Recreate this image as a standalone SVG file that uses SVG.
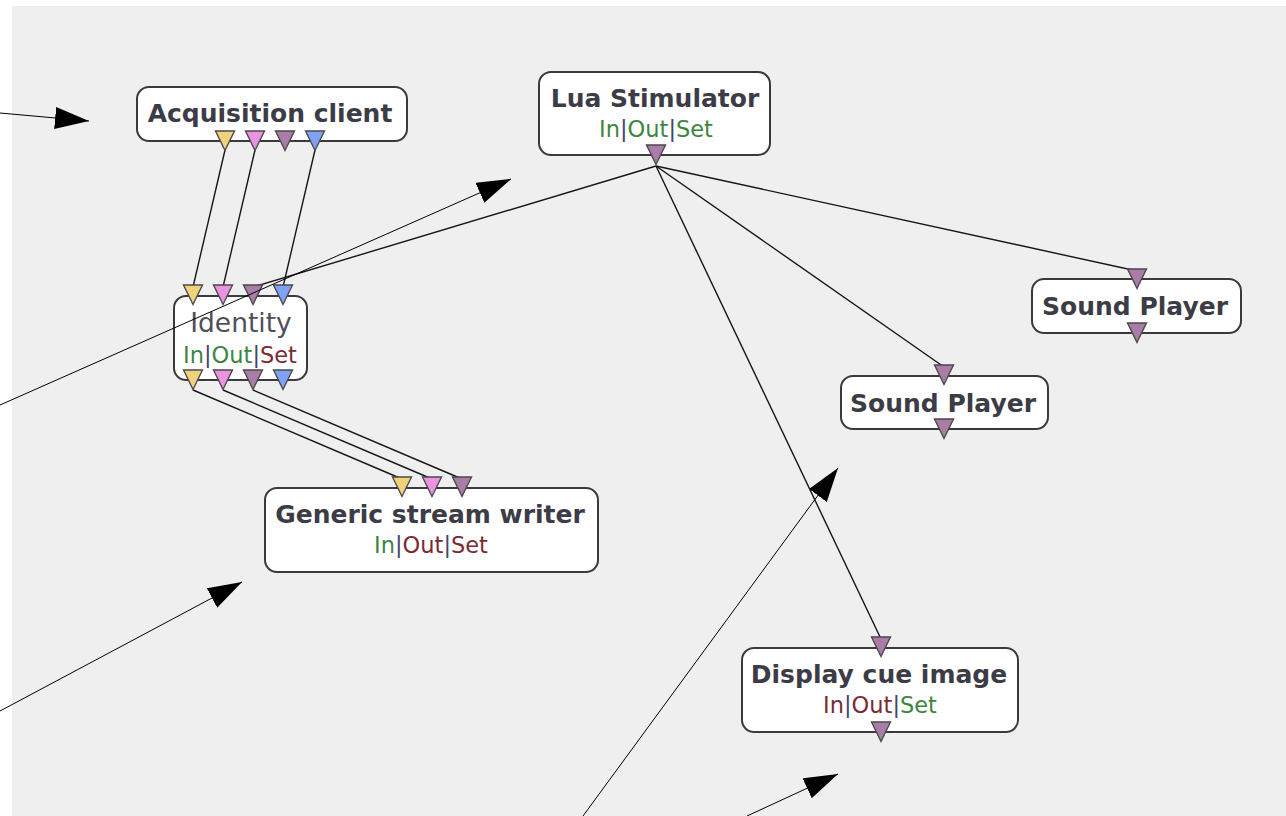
<svg xmlns="http://www.w3.org/2000/svg" width="1286" height="816" viewBox="0 0 1286 816">
  <style>
    .box { fill: #ffffff; stroke: #3a3a3a; stroke-width: 2; }
    .title { font-family: "DejaVu Sans", "Liberation Sans", sans-serif; font-size: 25px; font-weight: bold; fill: #3c3c46; text-anchor: middle; }
    .title.plain { font-weight: normal; font-size: 26.5px; fill: #50505c; }
    .sub { font-family: "DejaVu Sans", "Liberation Sans", sans-serif; font-size: 22.5px; text-anchor: middle; }
    .g { fill: #3d8542; }
    .r { fill: #7a2b33; }
    .p { fill: #3e4470; }
    .port { stroke: #4a4a4a; stroke-width: 1.4; stroke-linejoin: miter; }
    .yel { fill: #f0d27c; }
    .pnk { fill: #ec92e2; }
    .pur { fill: #a97da6; }
    .blu { fill: #7fa2f6; }
    .link { stroke: #161616; stroke-width: 1.4; fill: none; }
    .note { stroke: #000000; stroke-width: 1; fill: none; marker-end: url(#head); }
  </style>
  <defs>
    <path id="tri" d="M-9.5,0 L9.5,0 L0,19.5 Z"/>
    <marker id="head" markerUnits="userSpaceOnUse" markerWidth="36" markerHeight="24" refX="34" refY="11" orient="auto">
      <path d="M0,0 L34,11 L0,22 Z" fill="#000"/>
    </marker>
  </defs>

  <!-- canvas -->
  <rect x="12" y="6" width="1274" height="810" fill="#efefef"/>

  <!-- links between box ports -->
  <g id="connectors">
    <line class="link" x1="225" y1="150" x2="193" y2="287"/>
    <line class="link" x1="255" y1="150" x2="223" y2="287"/>
    <line class="link" x1="315" y1="150" x2="283" y2="287"/>
    <line class="link" x1="656" y1="166" x2="253" y2="287"/>
    <line class="link" x1="656" y1="166" x2="1137" y2="271"/>
    <line class="link" x1="656" y1="166" x2="944" y2="367"/>
    <line class="link" x1="656" y1="166" x2="881" y2="639"/>
    <line class="link" x1="193" y1="390" x2="402" y2="479"/>
    <line class="link" x1="223" y1="390" x2="432" y2="479"/>
    <line class="link" x1="253" y1="390" x2="462" y2="479"/>
  </g>

  <g id="acquisition-client">
    <rect class="box" x="137" y="87" width="270" height="54" rx="12"/>
    <text class="title" x="270" y="122">Acquisition client</text>
    <use href="#tri" class="port yel" x="225" y="131"/>
    <use href="#tri" class="port pnk" x="255" y="131"/>
    <use href="#tri" class="port pur" x="285" y="131"/>
    <use href="#tri" class="port blu" x="315" y="131"/>
  </g>

  <g id="lua-stimulator">
    <rect class="box" x="539" y="72" width="231" height="83" rx="12"/>
    <text class="title" x="655" y="107">Lua Stimulator</text>
    <text class="sub" x="656" y="137"><tspan class="g">In</tspan><tspan class="p">|</tspan><tspan class="g">Out</tspan><tspan class="p">|</tspan><tspan class="g">Set</tspan></text>
    <use href="#tri" class="port pur" x="656" y="145"/>
  </g>

  <g id="identity">
    <rect class="box" x="174" y="296" width="133" height="84" rx="12"/>
    <text class="title plain" x="241" y="332">Identity</text>
    <text class="sub" x="240" y="363"><tspan class="g">In</tspan><tspan class="p">|</tspan><tspan class="g">Out</tspan><tspan class="p">|</tspan><tspan class="r">Set</tspan></text>
    <use href="#tri" class="port yel" x="193" y="285"/>
    <use href="#tri" class="port pnk" x="223" y="285"/>
    <use href="#tri" class="port pur" x="253" y="285"/>
    <use href="#tri" class="port blu" x="283" y="285"/>
    <use href="#tri" class="port yel" x="193" y="370"/>
    <use href="#tri" class="port pnk" x="223" y="370"/>
    <use href="#tri" class="port pur" x="253" y="370"/>
    <use href="#tri" class="port blu" x="283" y="370"/>
  </g>

  <g id="generic-stream-writer">
    <rect class="box" x="265" y="488" width="333" height="84" rx="12"/>
    <text class="title" x="430" y="523">Generic stream writer</text>
    <text class="sub" x="431" y="553"><tspan class="g">In</tspan><tspan class="p">|</tspan><tspan class="r">Out</tspan><tspan class="p">|</tspan><tspan class="r">Set</tspan></text>
    <use href="#tri" class="port yel" x="402" y="477"/>
    <use href="#tri" class="port pnk" x="432" y="477"/>
    <use href="#tri" class="port pur" x="462" y="477"/>
  </g>

  <g id="sound-player-1">
    <rect class="box" x="1032" y="279" width="209" height="54" rx="12"/>
    <text class="title" x="1135" y="315">Sound Player</text>
    <use href="#tri" class="port pur" x="1137" y="269"/>
    <use href="#tri" class="port pur" x="1137" y="323"/>
  </g>

  <g id="sound-player-2">
    <rect class="box" x="841" y="376" width="207" height="53" rx="12"/>
    <text class="title" x="943" y="412">Sound Player</text>
    <use href="#tri" class="port pur" x="944" y="365"/>
    <use href="#tri" class="port pur" x="944" y="419"/>
  </g>

  <g id="display-cue-image">
    <rect class="box" x="742" y="648" width="276" height="84" rx="12"/>
    <text class="title" x="879" y="683">Display cue image</text>
    <text class="sub" x="880" y="713"><tspan class="r">In</tspan><tspan class="p">|</tspan><tspan class="r">Out</tspan><tspan class="p">|</tspan><tspan class="g">Set</tspan></text>
    <use href="#tri" class="port pur" x="881" y="637"/>
    <use href="#tri" class="port pur" x="881" y="722"/>
  </g>

  <!-- pointer arrows drawn over the canvas -->
  <g id="pointers">
    <line class="note" x1="0" y1="113" x2="89" y2="121"/>
    <line class="note" x1="0" y1="405" x2="511" y2="179"/>
    <line class="note" x1="0" y1="711" x2="242" y2="582"/>
    <line class="note" x1="583" y1="816" x2="838" y2="468"/>
    <line class="note" x1="747" y1="816" x2="838" y2="774"/>
  </g>
</svg>
